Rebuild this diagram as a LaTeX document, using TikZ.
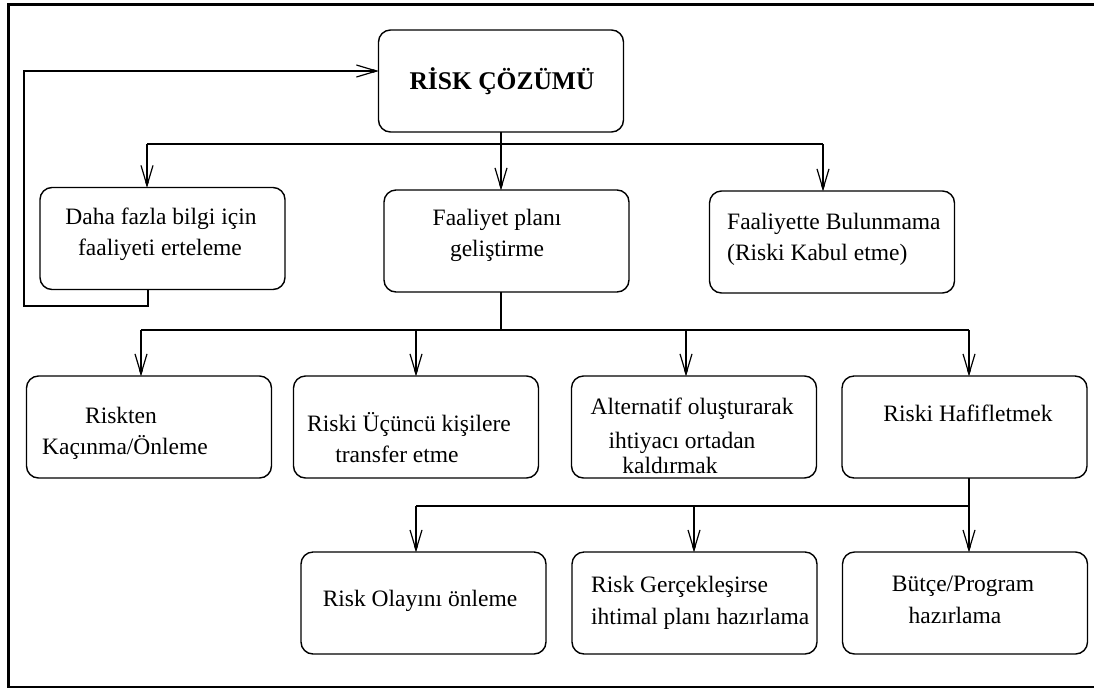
\documentclass[tikz,border=0pt]{standalone}
\usepackage{fontspec}
\setmainfont{Liberation Serif}
\usetikzlibrary{arrows.meta}
\begin{document}
\begin{tikzpicture}[x=1pt,y=-1pt,
  box/.style={draw, line width=1.4pt, rounded corners=12pt, minimum width=245pt,
    minimum height=102pt, inner sep=0pt, outer sep=0pt},
  txt/.style={inner sep=0pt, font=\fontsize{23.5}{31}\selectfont},
  ttl/.style={inner sep=0pt, font=\bfseries\fontsize{25.5}{31}\selectfont},
  link/.style={line width=1.3pt},
  arr/.style={line width=1.3pt, -{Straight Barb[length=20pt,width=12pt,line width=1.2pt]},
    postaction={draw, -{Triangle[length=6pt,width=3.5pt]}}}]
\useasboundingbox (0,0) rectangle (1094,689);

% outer frame (open on the right)
\draw[line width=3pt] (1094,4.5) -- (7,4.5);
\draw[line width=3.5pt] (8.5,3) -- (8.5,688);
\draw[line width=2pt] (7,687) -- (1094,687);

% boxes
\node[box] (risk)   at (501,81)    {};
\node[box] (daha)   at (162.5,238.5) {};
\node[box] (plan)   at (506.5,241) {};
\node[box] (kabul)  at (832,242)   {};
\node[box] (kacin)  at (149,427)   {};
\node[box] (ucuncu) at (416,427)   {};
\node[box] (alt)    at (694,427)   {};
\node[box] (hafif)  at (964.5,427) {};
\node[box] (olay)   at (423.5,603) {};
\node[box] (gercek) at (694.5,603) {};
\node[box] (butce)  at (965,603)   {};

% texts
\node[ttl, anchor=base] (t0) at (502,89) {RİSK ÇÖZÜMÜ};
\node[txt, anchor=base] (ta1) at (161,224) {Daha fazla bilgi için};
\node[txt, anchor=base] (ta2) at (160,255) {faaliyeti erteleme};
\node[txt, anchor=base] (tb1) at (497,225) {Faaliyet planı};
\node[txt, anchor=base] (tb2) at (497,256) {geliştirme};
\node[txt, anchor=base west] (tc1) at (727,229) {Faaliyette Bulunmama};
\node[txt, anchor=base west] (tc2) at (727,260) {(Riski Kabul etme)};
\node[txt, anchor=base] (td1) at (121,423) {Riskten};
\node[txt, anchor=base] (td2) at (125,454) {Kaçınma/Önleme};
\node[txt, anchor=base] (te1) at (409,431) {Riski Üçüncü kişilere};
\node[txt, anchor=base] (te2) at (397,462) {transfer etme};
\node[txt, anchor=base] (tf1) at (692,414) {Alternatif oluşturarak};
\node[txt, anchor=base] (tf2) at (682,448) {ihtiyacı ortadan};
\node[txt, anchor=base] (tf3) at (670,473) {kaldırmak};
\node[txt, anchor=base] (tg1) at (968,421) {Riski Hafifletmek};
\node[txt, anchor=base] (th1) at (420,606) {Risk Olayını önleme};
\node[txt, anchor=base west] (ti1) at (591,592) {Risk Gerçekleşirse};
\node[txt, anchor=base west] (ti2) at (591,624) {ihtimal planı hazırlama};
\node[txt, anchor=base] (tj1) at (963,591) {Bütçe/Program};
\node[txt, anchor=base] (tj2) at (955,623) {hazırlama};

% junction points
\coordinate (t1) at (501,144);
\coordinate (a1) at (147,144);
\coordinate (a3) at (823,144);
\coordinate (t2) at (501,330);
\coordinate (c1) at (141,330);
\coordinate (c2) at (416,330);
\coordinate (c3) at (686,330);
\coordinate (c4) at (969,330);
\coordinate (d1) at (416,506);
\coordinate (d2) at (694,506);
\coordinate (d3) at (969,506);
\coordinate (fb) at (24,306);
\coordinate (fbtop) at (24,71);
\coordinate (fx) at (148,0);

% first level
\draw[link] (risk.south -| t1) -- (t1);
\draw[link] (a1) -- (a3);
\draw[arr] (a1) -- (a1 |- daha.north);
\draw[arr] (t1) -- (t1 |- plan.north);
\draw[arr] (a3) -- (a3 |- kabul.north);

% feedback loop back to the top
\draw[arr] (fx |- daha.south) -- (fx |- fb) -- (fb) -- (fbtop) -- (fbtop -| risk.west);

% second level
\draw[link] (plan.south -| t2) -- (t2);
\draw[link] (c1) -- (c4);
\draw[arr] (c1) -- (c1 |- kacin.north);
\draw[arr] (c2) -- (c2 |- ucuncu.north);
\draw[arr] (c3) -- (c3 |- alt.north);
\draw[arr] (c4) -- (c4 |- hafif.north);

% third level
\draw[link] (hafif.south -| d3) -- (d3);
\draw[link] (d1) -- (d3);
\draw[arr] (d1) -- (d1 |- olay.north);
\draw[arr] (d2) -- (d2 |- gercek.north);
\draw[arr] (d3) -- (d3 |- butce.north);
\end{tikzpicture}
\end{document}
